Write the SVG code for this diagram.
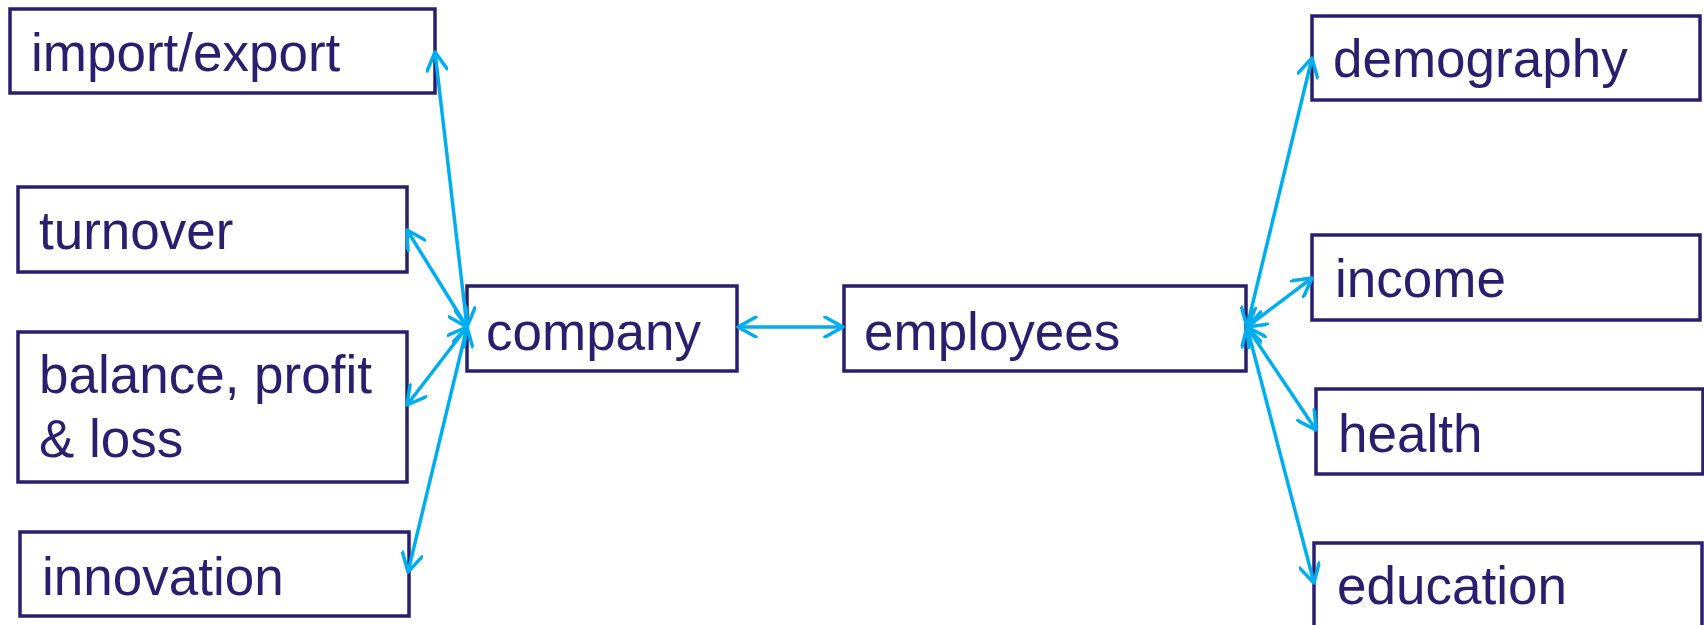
<svg xmlns="http://www.w3.org/2000/svg" width="1704" height="625" viewBox="0 0 1704 625">
<style>
.box{fill:#fff;stroke:#2A1F6E;stroke-width:3.5}
.lbl{font-family:"Liberation Sans",Arial,sans-serif;font-size:53px;fill:#2A1F6E}
.con{stroke:#00AEEF;stroke-width:3.5;fill:none;marker-start:url(#ah);marker-end:url(#ah)}
</style>
<defs>
<marker id="ah" viewBox="0 0 22 22" refX="20" refY="11" markerWidth="22" markerHeight="22" markerUnits="userSpaceOnUse" orient="auto-start-reverse">
<path d="M2,1 L20,11 L2,21" fill="none" stroke="#00AEEF" stroke-width="3.5" stroke-linecap="round" stroke-linejoin="round"/>
</marker>
</defs>
<rect width="1704" height="625" fill="#fff"/>
<g id="import-export"><rect class="box" x="10" y="9" width="425" height="84"/><text class="lbl" x="31" y="71">import/export</text></g>
<g id="turnover"><rect class="box" x="18" y="187" width="389" height="85"/><text class="lbl" x="39" y="249">turnover</text></g>
<g id="balance"><rect class="box" x="18" y="332" width="389" height="150"/><text class="lbl" x="39" y="393">balance, profit</text><text class="lbl" x="39" y="457">&amp; loss</text></g>
<g id="innovation"><rect class="box" x="20" y="532" width="389" height="84"/><text class="lbl" x="42" y="595">innovation</text></g>
<g id="company"><rect class="box" x="467" y="286" width="270" height="85"/><text class="lbl" x="486" y="350">company</text></g>
<g id="employees"><rect class="box" x="844" y="286" width="402" height="85"/><text class="lbl" x="864" y="350">employees</text></g>
<g id="demography"><rect class="box" x="1312" y="16" width="388" height="84"/><text class="lbl" x="1333" y="77">demography</text></g>
<g id="income"><rect class="box" x="1312" y="235" width="388" height="85"/><text class="lbl" x="1335" y="297">income</text></g>
<g id="health"><rect class="box" x="1316" y="389" width="387" height="85"/><text class="lbl" x="1338" y="452">health</text></g>
<g id="education"><rect class="box" x="1314" y="543" width="388" height="90"/><text class="lbl" x="1337" y="604">education</text></g>
<g id="connectors">
<line class="con" x1="467" y1="327" x2="435" y2="52"/>
<line class="con" x1="467" y1="327" x2="407" y2="230"/>
<line class="con" x1="467" y1="327" x2="407" y2="405"/>
<line class="con" x1="467" y1="327" x2="408" y2="572"/>
<line class="con" x1="738" y1="327" x2="843" y2="327"/>
<line class="con" x1="1247" y1="327" x2="1312" y2="58"/>
<line class="con" x1="1247" y1="327" x2="1312" y2="278"/>
<line class="con" x1="1247" y1="327" x2="1316" y2="430"/>
<line class="con" x1="1247" y1="327" x2="1314" y2="583"/>
</g>
</svg>
